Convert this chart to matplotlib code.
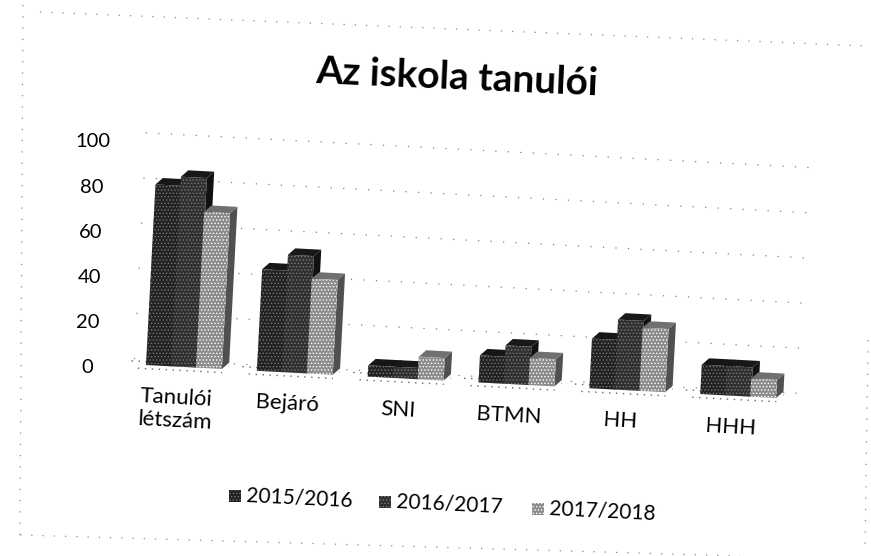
import matplotlib
matplotlib.use("Agg")
import matplotlib.pyplot as plt
from matplotlib.patches import Polygon, Rectangle
from matplotlib.transforms import Affine2D

plt.rcParams['font.family'] = ['Lato', 'DejaVu Sans']
plt.rcParams['hatch.linewidth'] = 0.6

title = "Az iskola tanulói"
categories = ["Tanulói\nlétszám", "Bejáró", "SNI", "BTMN", "HH", "HHH"]
series = ["2015/2016", "2016/2017", "2017/2018"]
v2015 = [80, 45, 5, 12, 22, 13]
v2016 = [84, 52, 5, 17, 31, 13]
v2017 = [69, 42, 10, 12, 28, 8]
yticks = [0, 20, 40, 60, 80, 100]

W, H = 871, 556
fig = plt.figure(figsize=(W / 100, H / 100), dpi=100, facecolor='white')

# page-pixel overlay for scan frame, title, legend
pg = fig.add_axes([0, 0, 1, 1])
pg.set_xlim(0, W); pg.set_ylim(H, 0); pg.axis('off')

# plot area
ax = fig.add_axes([100 / W, (H - 365) / H, 700 / W, 226 / H])
ax.set_ylim(0, 100)
ax.set_xlim((100 - 178) / 111, (800 - 178) / 111)
ax.axis('off')
ANGLE = -3
rot = ax.transData + Affine2D().rotate_deg_around(146, H - 365, ANGLE)
rot_y = ax.transData + Affine2D().rotate_deg_around(92, H - 365, -1.5).translate(0, -3)

BW, STEP, LEFT = 26 / 111, 25 / 111, -32 / 111
DX, DY = 7 / 111, 3.0

# scan-faded gridlines on the back wall
grid_kw = dict(color='#808080', lw=0.9, ls=(0, (1, 9)), transform=rot, clip_on=False)
x0, x1 = -0.40, 5.62
for g in yticks:
    ax.plot([x0, x1], [g + 2.6, g + 2.6], zorder=1, **grid_kw)
# speckled floor
floor = dict(color='#666666', lw=1.0, ls=(0, (1, 4)), transform=rot, clip_on=False)
for c in range(len(categories)):
    ax.plot([c - 0.36, c + 0.40], [-1.6, -1.6], zorder=1, **floor)
    ax.plot([c - 0.42, c + 0.46], [1.5, 1.5], zorder=1, **floor)

face = ['#222222', '#303030', '#8c8c8c']
side = ['#0d0d0d', '#111111', '#505050']
top = ['#161616', '#181818', '#707070']
hatch_c = ['#777777', '#777777', '#ffffff']
for s, vals in enumerate([v2015, v2016, v2017]):
    for c, v in enumerate(vals):
        l = c + LEFT + s * STEP
        r = l + BW
        z = 3 + s + c * 10
        for pts, col, h in (
            ([(r, 0), (r + DX, DY), (r + DX, v + DY), (r, v)], side[s], None),
            ([(l, v), (r, v), (r + DX, v + DY), (l + DX, v + DY)], top[s], None),
            ([(l, 0), (r, 0), (r, v), (l, v)], face[s], '.....'),
        ):
            ax.add_patch(Polygon(pts, closed=True, facecolor=col,
                                 edgecolor=hatch_c[s] if h else col,
                                 lw=0, hatch=h, transform=rot, zorder=z, clip_on=False))

# value-axis labels
for t in yticks:
    ax.text(-0.82, t, str(t), transform=rot_y, ha='center', va='center',
            fontsize=14.5, color='#000000', clip_on=False)

# category labels
for c, name in enumerate(categories):
    ax.text(c, -9.5, name, transform=rot, ha='center', va='top', rotation=ANGLE,
            rotation_mode='anchor', fontsize=16, linespacing=1.2, color='#000000', clip_on=False)

# title
pg.text(457, 78, title, ha='center', va='center', rotation=-2.5, rotation_mode='anchor',
        fontsize=28, fontweight='bold', color='#000000')

# legend
legend_x = [235, 385, 538]
legend_y = [496, 502, 509]
for name, lx, ly, col, hc in zip(series, legend_x, legend_y, face, hatch_c):
    pg.add_patch(Rectangle((lx - 6, ly - 6), 12, 12, facecolor=col, edgecolor=hc, lw=0, hatch='.....'))
    pg.text(lx + 11, ly, name, ha='left', va='center', rotation=-2.8, rotation_mode='anchor',
            fontsize=15, color='#000000')

# scanned page frame
frame = dict(color='#8a8a8a', lw=0.9, ls=(0, (1, 8)))
pg.plot([40, 868], [12, 46], **frame)
pg.plot([23, 20], [5, 535], **frame)
pg.plot([20, 740], [535, 556], **frame)
pg.plot([868, 865], [340, 550], **frame)

fig.savefig("out.png", dpi=100, facecolor='white')
